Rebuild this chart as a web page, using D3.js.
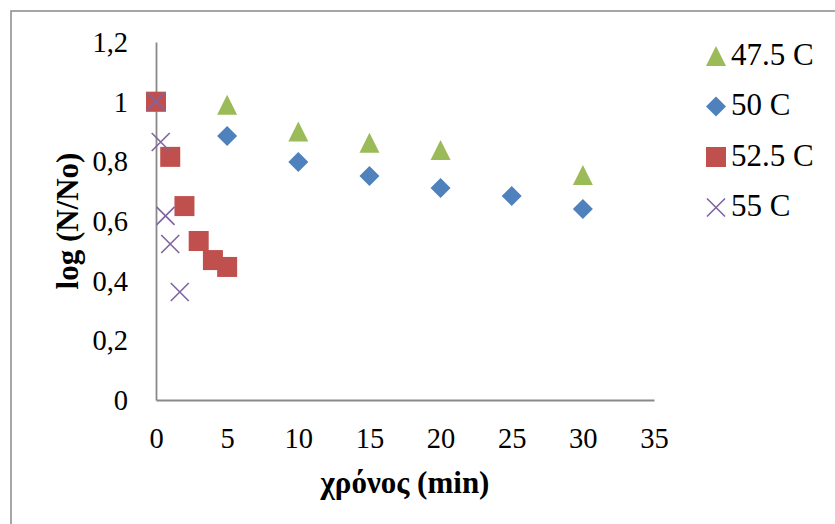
<!DOCTYPE html>
<html>
<head>
<meta charset="utf-8">
<script src="https://cdn.jsdelivr.net/npm/d3@7"></script>
<style>
  html, body { margin: 0; padding: 0; background: #fff; }
  svg { display: block; font-family: "Liberation Serif", "Times New Roman", serif; }
</style>
</head>
<body>
<svg id="chart" width="835" height="524"></svg>
<script>
// ---- data ----
const seriesNames = ["47.5 C", "50 C", "52.5 C", "55 C"];
const x475 = [0, 5, 10, 15, 20, 30];
const y475 = [1, 0.99, 0.90, 0.862, 0.838, 0.754];
const x50  = [0, 5, 10, 15, 20, 25, 30];
const y50  = [1, 0.885, 0.798, 0.751, 0.711, 0.684, 0.640];
const x525 = [0, 1, 2, 3, 4, 5];
const y525 = [1, 0.815, 0.650, 0.533, 0.469, 0.446];
const x55  = [0, 0.33, 0.67, 1, 1.67];
const y55  = [1, 0.865, 0.617, 0.523, 0.362];
const xTicks = [0, 5, 10, 15, 20, 25, 30, 35];
const yTicks = [0, 0.2, 0.4, 0.6, 0.8, 1, 1.2];
const xTitle = "χρόνος (min)";
const yTitle = "log (N/No)";

const colors = ["#9BBB59", "#4F81BD", "#C0504D", "#8064A2"];
const shapes = ["triangle", "diamond", "square", "cross"];
const series = [
  {name: seriesNames[0], xs: x475, ys: y475},
  {name: seriesNames[1], xs: x50, ys: y50},
  {name: seriesNames[2], xs: x525, ys: y525},
  {name: seriesNames[3], xs: x55, ys: y55}
];

const svg = d3.select("#chart");
const pLeft = 156, pRight = 654, pTop = 42, pBottom = 400;
const x = d3.scaleLinear().domain([0, 35]).range([pLeft, pRight]);
const y = d3.scaleLinear().domain([0, 1.2]).range([pBottom, pTop]);

// outer chart border (only top and left visible)
svg.append("rect").attr("x", 11).attr("y", 11).attr("width", 840).attr("height", 530)
  .attr("fill", "none").attr("stroke", "#898989").attr("stroke-width", 1.5);

const fmt = d => String(d).replace(".", ",");
const tickSize = 28.5, legendSize = 31, titleSize = 31;

// axes
const xAxis = d3.axisBottom(x).tickValues(xTicks).tickSize(0).tickFormat(d => d);
const gx = svg.append("g").attr("transform", `translate(0,${pBottom})`).call(xAxis);
gx.select(".domain").attr("stroke", "#898989").attr("stroke-width", 1.8);
gx.selectAll("text").attr("font-size", tickSize).attr("font-family", "Liberation Serif")
  .attr("fill", "#000").attr("dy", null).attr("y", 48);

const yAxis = d3.axisLeft(y).tickValues(yTicks).tickSize(0).tickFormat(fmt);
const gy = svg.append("g").attr("transform", `translate(${pLeft},0)`).call(yAxis);
gy.select(".domain").attr("stroke", "#898989").attr("stroke-width", 1.8);
gy.selectAll("text").attr("font-size", tickSize).attr("font-family", "Liberation Serif")
  .attr("fill", "#000").attr("x", -28).attr("dy", "0.33em");

// titles
svg.append("text").attr("x", (pLeft + pRight) / 2).attr("y", 493)
  .attr("text-anchor", "middle").attr("font-weight", "bold").attr("font-size", titleSize)
  .text(xTitle);
svg.append("text").attr("transform", `translate(78,${(pTop + pBottom) / 2}) rotate(-90)`)
  .attr("text-anchor", "middle").attr("font-weight", "bold").attr("font-size", titleSize)
  .text(yTitle);

// markers
function drawMarker(g, shape, color) {
  if (shape === "triangle") {
    g.append("path").attr("d", "M0,-10 L10,10 L-10,10 Z").attr("fill", color);
  } else if (shape === "diamond") {
    g.append("path").attr("d", "M0,-10 L10,0 L0,10 L-10,0 Z").attr("fill", color);
  } else if (shape === "square") {
    g.append("rect").attr("x", -10).attr("y", -10).attr("width", 20).attr("height", 20).attr("fill", color);
  } else {
    g.append("path").attr("d", "M-9,-9 L9,9 M-9,9 L9,-9").attr("stroke", color)
      .attr("stroke-width", 1.6).attr("fill", "none");
  }
}

series.forEach((s, i) => {
  const g = svg.append("g");
  s.xs.forEach((xv, j) => {
    const m = g.append("g").attr("transform", `translate(${x(xv)},${y(s.ys[j])})`);
    drawMarker(m, shapes[i], colors[i]);
  });
});

// legend
const legend = svg.append("g");
series.forEach((s, i) => {
  const cy = 56 + i * 50.5;
  const m = legend.append("g").attr("transform", `translate(716,${cy})`);
  drawMarker(m, shapes[i], colors[i]);
  legend.append("text").attr("x", 731).attr("y", cy + 8.5)
    .attr("font-size", legendSize).text(s.name);
});
</script>
</body>
</html>
